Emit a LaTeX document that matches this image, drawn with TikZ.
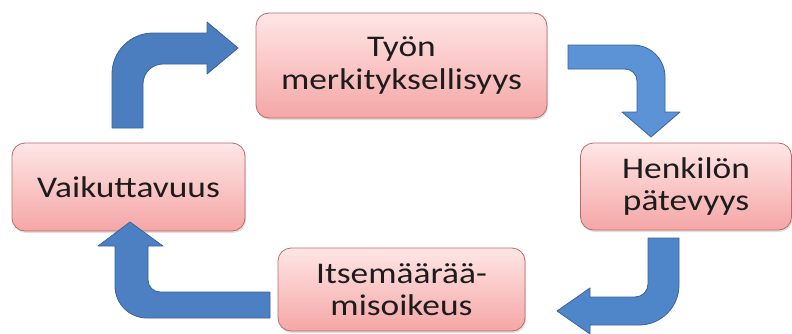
\documentclass[tikz,border=0pt]{standalone}
\usepackage{fontspec}
\setmainfont{Carlito}[FakeStretch=1.18]
\usetikzlibrary{shadows}
\definecolor{boxtop}{HTML}{FFE6E6}
\definecolor{boxbot}{HTML}{F5A6A6}
\definecolor{boxline}{HTML}{BE6A66}
\definecolor{txt}{HTML}{1C1C1C}
\definecolor{arrA}{HTML}{4A7EBE}
\definecolor{arrB}{HTML}{5B93D6}
\definecolor{arrC}{HTML}{4F86CA}
\definecolor{arrD}{HTML}{4C80C2}
\definecolor{arrline}{HTML}{3B62A0}
\tikzset{
  box/.style={rectangle, rounded corners=13pt, draw=boxline, line width=0.8pt,
    top color=boxtop, bottom color=boxbot, inner sep=0pt, align=center,
    text=txt, font=\fontsize{30}{32.5}\selectfont,
    drop shadow={shadow xshift=1pt, shadow yshift=-2pt, opacity=0.25}},
  blockarrow/.style={draw=arrline, line width=0.8pt, line join=round}
}
\begin{document}
\begin{tikzpicture}[x=1pt,y=1pt]
\useasboundingbox (0,0) rectangle (792,333);
% boxes
\node[box, minimum width=291pt, minimum height=105pt] (tyon) at (401.5,267.5) {Työn\\merkityksellisyys};
\node[box, minimum width=211pt, minimum height=87pt] (henk) at (686,146.5) {Henkilön\\pätevyys};
\node[box, minimum width=247pt, minimum height=83pt] (itse) at (401.5,43.5) {Itsemäärää-\\misoikeus};
\node[box, minimum width=233pt, minimum height=88pt] (vaik) at (128.5,146) {Vaikuttavuus};
% top-left arrow
\fill[arrA, blockarrow] (112,205) -- (112,259) arc[start angle=180, end angle=90, radius=41]
  -- (207,300) -- (207,311) -- (238,285) -- (207,259) -- (207,269) -- (163,269)
  arc[start angle=90, end angle=180, radius=20] -- (143,205) -- cycle;
% top-right arrow
\fill[arrB, blockarrow] (568,288) -- (633,288) arc[start angle=90, end angle=0, radius=32]
  -- (665,221) -- (680,221) -- (651,196) -- (622,221) -- (637,221) -- (637,252)
  arc[start angle=0, end angle=90, radius=12] -- (568,264) -- cycle;
% bottom-right arrow
\fill[arrC, blockarrow] (648,95) -- (679,95) -- (679,48) arc[start angle=0, end angle=-90, radius=40]
  -- (590,8) -- (590,-1) -- (557,22) -- (590,45) -- (590,36) -- (635,36)
  arc[start angle=-90, end angle=0, radius=13] -- cycle;
% bottom-left arrow
\fill[arrD, blockarrow] (270,41) -- (270,15) -- (147,15) arc[start angle=-90, end angle=-180, radius=32]
  -- (115,87) -- (98,87) -- (130,111) -- (163,87) -- (148,87) -- (148,53)
  arc[start angle=180, end angle=270, radius=12] -- cycle;
\end{tikzpicture}
\end{document}
